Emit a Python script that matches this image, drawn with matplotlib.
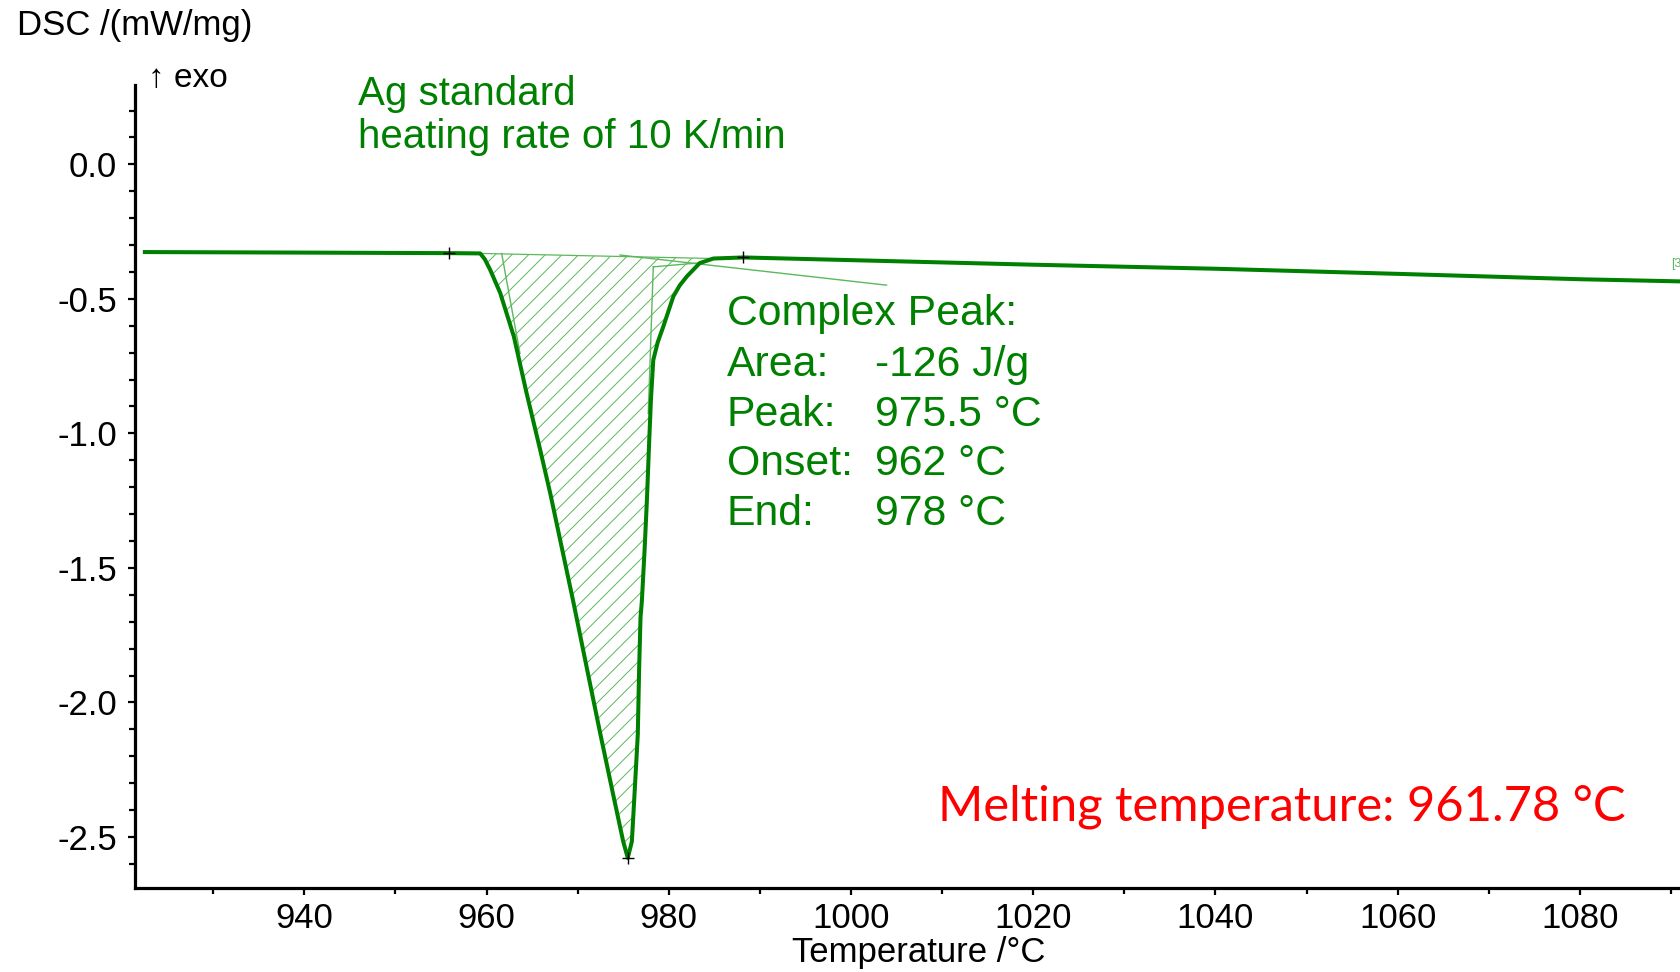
import matplotlib

matplotlib.use("Agg")
import matplotlib.pyplot as plt
import numpy as np

# DSC trace of the Ag standard
temp_c = [922.5, 940.0, 956.0, 959.3, 959.8, 960.4, 961.5, 963.0, 964.4, 965.9,
          967.0, 969.5, 971.0, 972.5, 973.9, 975.0, 975.5, 975.95, 976.3, 976.6,
          976.75, 976.9, 977.05, 977.35, 977.6, 977.85, 978.05, 978.3, 978.8, 979.4,
          980.5, 981.2, 982.0, 983.4, 984.9, 988.2, 1000.0, 1020.0, 1040.0, 1060.0,
          1080.0, 1091.0]
dsc = [-0.326, -0.328, -0.330, -0.331, -0.352, -0.392, -0.478, -0.640, -0.851, -1.063,
       -1.224, -1.622, -1.871, -2.119, -2.343, -2.517, -2.578, -2.517, -2.305, -2.119,
       -1.871, -1.684, -1.622, -1.430, -1.249, -1.030, -0.870, -0.727, -0.660, -0.603,
       -0.491, -0.450, -0.416, -0.367, -0.350, -0.346, -0.356, -0.373, -0.388, -0.407,
       -0.427, -0.435]

# integration limits and the marks the software puts on the curve
peak_start = (959.3, -0.331)
peak_stop = (984.9, -0.350)
mark_t = [955.9, 988.2, 975.55]
mark_y = [-0.331, -0.346, -2.580]

# construction lines (onset tangent, end tangent, extended baseline)
onset_tangent = ([961.66, 963.67], [-0.331, -0.703])
end_tangent = ([978.3, 977.75], [-0.381, -0.926])
end_cap = ([978.3, 983.4], [-0.381, -0.366])
base_extension = ([974.65, 1003.9], [-0.337, -0.449])

result_labels = ["Complex Peak:", "Area:", "Peak:", "Onset:", "End:"]
result_values = ["", "-126 J/g", "975.5 °C", "962 °C", "978 °C"]
result_baselines = [-0.597, -0.786, -0.972, -1.155, -1.341]

GREEN = "#008000"
LIGHT_GREEN = "#5cb85c"
ARIAL = ["Liberation Sans", "DejaVu Sans"]

plt.rcParams["font.family"] = ARIAL
plt.rcParams["hatch.linewidth"] = 0.7

fig = plt.figure(figsize=(16.8, 9.72), dpi=100)
ax = fig.add_axes([135 / 1680, 1 - 888.3 / 972, 1 - 135 / 1680, (888.3 - 85) / 972])

t = np.array(temp_c)
y = np.array(dsc)

# hatched peak area between the curve and the linear baseline
sel = (t >= peak_start[0]) & (t <= peak_stop[0])
base = np.interp(t[sel], [peak_start[0], peak_stop[0]], [peak_start[1], peak_stop[1]])
ax.fill_between(t[sel], y[sel], base, facecolor="none", edgecolor=LIGHT_GREEN,
                hatch="//", linewidth=0)
ax.plot([peak_start[0], peak_stop[0]], [peak_start[1], peak_stop[1]],
        color=LIGHT_GREEN, lw=0.9)
for xs, ys in (onset_tangent, end_tangent, end_cap, base_extension):
    ax.plot(xs, ys, color=LIGHT_GREEN, lw=1.0)

ax.plot(t, y, color=GREEN, lw=2.9, solid_joinstyle="round", zorder=3)
ax.plot(mark_t, mark_y, ls="none", marker="+", color="black", ms=9, mew=1.0, zorder=4)

ax.set_xlim(921.42, 1090.98)
ax.set_ylim(-2.691, 0.295)
ax.set_xticks(np.arange(940, 1081, 20))
ax.set_xticks(np.arange(930, 1091, 10), minor=True)
ax.set_yticks(np.arange(-2.5, 0.01, 0.5))
ax.set_yticks(np.arange(-2.6, 0.25, 0.1), minor=True)
ax.yaxis.set_major_formatter(matplotlib.ticker.FormatStrFormatter("%.1f"))

for side in ("top", "right"):
    ax.spines[side].set_visible(False)
for side in ("left", "bottom"):
    ax.spines[side].set_linewidth(2.3)
ax.tick_params(which="major", direction="out", length=5, width=1.6, labelsize=25)
ax.tick_params(which="minor", direction="out", length=4, width=1.6)
ax.tick_params(axis="y", which="major", pad=8)
ax.tick_params(axis="x", which="major", pad=5)

# annotations inside the plot
ax.text(945.93, 0.2204, "Ag standard", color=GREEN, fontsize=29, va="baseline")
ax.text(945.93, 0.0595, "heating rate of 10 K/min", color=GREEN, fontsize=29,
        va="baseline")
for lab, val, yb in zip(result_labels, result_values, result_baselines):
    ax.text(986.36, yb, lab, color=GREEN, fontsize=30.8, va="baseline")
    if val:
        ax.text(1002.63, yb, val, color=GREEN, fontsize=30.8, va="baseline")
ax.text(1009.5, -2.44, "Melting temperature: 961.78 °C", color="#ff0000",
        fontsize=35.2, family="Lato", va="baseline")

# axis titles placed like the instrument software does
fig.text(16.7 / 1680, 1 - 35 / 972, "DSC /(mW/mg)", fontsize=25, va="baseline")
fig.text(148 / 1680, 1 - 87.3 / 972, "↑ exo", fontsize=24, va="baseline")
fig.text(919 / 1680, 1 - 962 / 972, "Temperature /°C", fontsize=25,
         ha="center", va="baseline")
fig.text(1671 / 1680, 1 - 267 / 972, "[3", fontsize=9, color=LIGHT_GREEN,
         va="baseline")

fig.savefig("out.png", dpi=100)
